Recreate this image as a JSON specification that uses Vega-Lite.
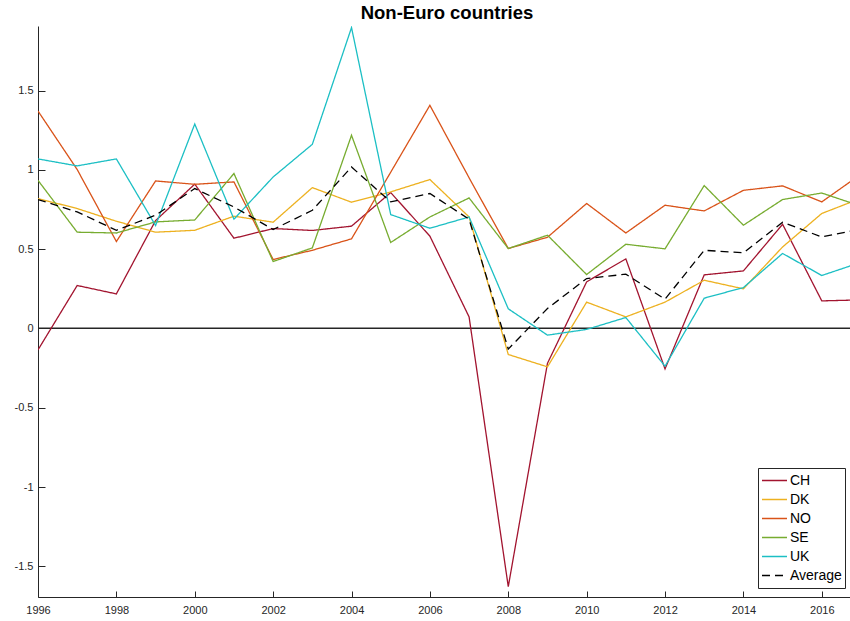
{
  "$schema": "https://vega.github.io/schema/vega-lite/v6.json",
  "autosize": {"type": "none"},
  "padding": {"left": 38, "top": 26, "right": 0, "bottom": 24},
  "width": 812,
  "height": 571,
  "background": "white",
  "title": {"text": "Non-Euro countries", "fontSize": 18.5, "fontWeight": "bold", "font": "Liberation Sans", "color": "#000000", "anchor": "middle", "offset": 4, "dx": 3},
  "config": {"font": "Liberation Sans", "view": {"stroke": null}},
  "data": {"values": [
    {"year": 1996, "CH": -0.135, "DK": 0.819, "NO": 1.371, "SE": 0.934, "UK": 1.069, "Average": 0.813},
    {"year": 1997, "CH": 0.271, "DK": 0.756, "NO": 1.002, "SE": 0.607, "UK": 1.025, "Average": 0.735},
    {"year": 1998, "CH": 0.218, "DK": 0.676, "NO": 0.548, "SE": 0.602, "UK": 1.069, "Average": 0.619},
    {"year": 1999, "CH": 0.68, "DK": 0.607, "NO": 0.93, "SE": 0.672, "UK": 0.649, "Average": 0.714},
    {"year": 2000, "CH": 0.91, "DK": 0.619, "NO": 0.909, "SE": 0.684, "UK": 1.289, "Average": 0.882},
    {"year": 2001, "CH": 0.569, "DK": 0.708, "NO": 0.924, "SE": 0.977, "UK": 0.689, "Average": 0.766},
    {"year": 2002, "CH": 0.63, "DK": 0.67, "NO": 0.435, "SE": 0.422, "UK": 0.955, "Average": 0.624},
    {"year": 2003, "CH": 0.618, "DK": 0.888, "NO": 0.493, "SE": 0.508, "UK": 1.161, "Average": 0.745},
    {"year": 2004, "CH": 0.645, "DK": 0.796, "NO": 0.565, "SE": 1.218, "UK": 1.897, "Average": 1.018},
    {"year": 2005, "CH": 0.857, "DK": 0.861, "NO": 0.985, "SE": 0.542, "UK": 0.718, "Average": 0.798},
    {"year": 2006, "CH": 0.582, "DK": 0.939, "NO": 1.407, "SE": 0.703, "UK": 0.632, "Average": 0.851},
    {"year": 2007, "CH": 0.073, "DK": 0.703, "NO": 0.95, "SE": 0.823, "UK": 0.703, "Average": 0.689},
    {"year": 2008, "CH": -1.628, "DK": -0.164, "NO": 0.504, "SE": 0.504, "UK": 0.124, "Average": -0.13},
    {"year": 2009, "CH": -0.22, "DK": -0.242, "NO": 0.575, "SE": 0.588, "UK": -0.042, "Average": 0.126},
    {"year": 2010, "CH": 0.294, "DK": 0.166, "NO": 0.788, "SE": 0.34, "UK": -0.006, "Average": 0.315},
    {"year": 2011, "CH": 0.439, "DK": 0.073, "NO": 0.602, "SE": 0.531, "UK": 0.069, "Average": 0.342},
    {"year": 2012, "CH": -0.255, "DK": 0.166, "NO": 0.777, "SE": 0.502, "UK": -0.238, "Average": 0.185},
    {"year": 2013, "CH": 0.338, "DK": 0.304, "NO": 0.741, "SE": 0.901, "UK": 0.191, "Average": 0.493},
    {"year": 2014, "CH": 0.363, "DK": 0.25, "NO": 0.871, "SE": 0.651, "UK": 0.258, "Average": 0.477},
    {"year": 2015, "CH": 0.657, "DK": 0.514, "NO": 0.899, "SE": 0.813, "UK": 0.473, "Average": 0.67},
    {"year": 2016, "CH": 0.174, "DK": 0.725, "NO": 0.798, "SE": 0.854, "UK": 0.334, "Average": 0.577},
    {"year": 2017, "CH": 0.18, "DK": 0.821, "NO": 0.973, "SE": 0.771, "UK": 0.417, "Average": 0.627}
  ]},
  "layer": [
    {
      "mark": {"type": "rule", "color": "#262626", "strokeWidth": 1},
      "encoding": {"y": {"datum": 0, "type": "quantitative"}}
    },
    {
      "transform": [{"fold": ["CH", "DK", "NO", "SE", "UK", "Average"], "as": ["series", "value"]}],
      "mark": {"type": "line", "clip": true},
      "encoding": {
        "x": {
          "field": "year", "type": "quantitative",
          "scale": {"domain": [1996, 2016.72], "nice": false, "zero": false},
          "axis": {"values": [1996, 1998, 2000, 2002, 2004, 2006, 2008, 2010, 2012, 2014, 2016], "labelExpr": "'' + datum.value", "title": null, "grid": false, "domainColor": "#262626", "tickColor": "#262626", "tickSize": -6, "labelPadding": 13, "labelFontSize": 11, "labelColor": "#262626", "labelFlush": false}
        },
        "y": {
          "field": "value", "type": "quantitative",
          "scale": {"domain": [-1.693, 1.907], "nice": false, "zero": false},
          "axis": {"values": [-1.5, -1, -0.5, 0, 0.5, 1, 1.5], "labelExpr": "'' + datum.value", "title": null, "grid": false, "domainColor": "#262626", "tickColor": "#262626", "tickSize": -7, "labelPadding": 12, "labelFontSize": 11, "labelColor": "#262626"}
        },
        "color": {
          "field": "series", "type": "nominal",
          "scale": {"domain": ["CH", "DK", "NO", "SE", "UK", "Average"], "range": ["#A2142F", "#EDB120", "#D95319", "#77AC30", "#1CBFC4", "#000000"]},
          "legend": {"title": null, "orient": "none", "legendX": 720, "legendY": 442, "symbolType": "stroke", "symbolSize": 625, "clipHeight": 19, "labelFontSize": 14, "labelColor": "#000000", "strokeColor": "#262626", "fillColor": "white", "padding": 3, "rowPadding": 0, "labelOffset": 2}
        },
        "strokeDash": {
          "field": "series", "type": "nominal",
          "scale": {"domain": ["CH", "DK", "NO", "SE", "UK", "Average"], "range": [[1, 0], [1, 0], [1, 0], [1, 0], [1, 0], [8, 5]]}
        },
        "strokeWidth": {
          "field": "series", "type": "nominal",
          "scale": {"domain": ["CH", "DK", "NO", "SE", "UK", "Average"], "range": [1.3, 1.3, 1.3, 1.3, 1.3, 2.6]}
        }
      }
    }
  ]
}
